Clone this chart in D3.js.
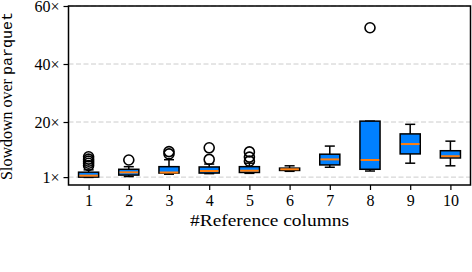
<!DOCTYPE html>
<html>
<head>
<meta charset="utf-8">
<script src="https://cdn.jsdelivr.net/npm/d3@7"></script>
<style>
  body { margin: 0; background: #fff; }
  svg text { font-family: "Liberation Serif", "Times New Roman", "Noto Serif", "DejaVu Serif", serif; }
  svg text .mono { font-family: "Liberation Mono", "DejaVu Sans Mono", monospace; }
</style>
</head>
<body>
<div id="viz"></div>
<script>
// box stats per number of reference columns
const columns   = [1, 2, 3, 4, 5, 6, 7, 8, 9, 10];
const whiskLow  = [0.9, 1.2, 2.0, 2.2, 2.3, 3.0, 4.4, 3.1, 5.8, 4.9];
const q1        = [1.0, 1.7, 2.4, 2.4, 2.6, 3.3, 5.2, 3.7, 9.0, 7.6];
const medians   = [1.5, 2.65, 2.6, 3.1, 3.2, 3.7, 7.1, 6.9, 12.4, 8.2];
const q3        = [2.7, 3.7, 4.6, 4.5, 4.6, 4.1, 8.9, 20.3, 15.9, 10.1];
const whiskHigh = [3.5, 4.6, 7.0, 5.5, 5.8, 4.9, 11.7, 20.3, 19.2, 13.4];
const outliers  = [[5.0, 5.8, 6.5, 7.2, 8.0], [6.9], [9.0, 9.8], [7.1, 11.1], [6.5, 7.9, 9.7], [], [], [52.5], [], []];
const yTicks = [1, 20, 40, 60];

const width = 472, height = 272;
const margin = {left: 68.5, right: 1.5, top: 6, bottom: 87};

const svg = d3.select("#viz").append("svg")
  .attr("width", width)
  .attr("height", height);

const x = d3.scaleLinear()
  .domain([0.5, 10.5])
  .range([margin.left, width - margin.right]);

const y = d3.scaleLinear()
  .domain([-1.72, 60])
  .range([height - margin.bottom, margin.top]);

const boxW = x(0.75) - x(0.5);   // half of box width in px
const capW = boxW / 2;

// grid
svg.append("g")
  .selectAll("line")
  .data(yTicks)
  .join("line")
  .attr("x1", x(0.5)).attr("x2", x(10.5))
  .attr("y1", d => y(d)).attr("y2", d => y(d))
  .attr("stroke", "#cccccc")
  .attr("stroke-width", 1)
  .attr("stroke-dasharray", "5,2.5");

const boxes = columns.map((c, i) => ({
  c, lo: whiskLow[i], q1: q1[i], med: medians[i], q3: q3[i], hi: whiskHigh[i], out: outliers[i]
}));

const g = svg.append("g");

// whiskers
g.selectAll(".wlo")
  .data(boxes)
  .join("line")
  .attr("x1", d => x(d.c)).attr("x2", d => x(d.c))
  .attr("y1", d => y(d.q1)).attr("y2", d => y(d.lo))
  .attr("stroke", "#000").attr("stroke-width", 1.5);

g.selectAll(".whi")
  .data(boxes)
  .join("line")
  .attr("x1", d => x(d.c)).attr("x2", d => x(d.c))
  .attr("y1", d => y(d.q3)).attr("y2", d => y(d.hi))
  .attr("stroke", "#000").attr("stroke-width", 1.5);

// caps
g.append("g").selectAll("line")
  .data(boxes.flatMap(d => [{c: d.c, v: d.lo}, {c: d.c, v: d.hi}]))
  .join("line")
  .attr("x1", d => x(d.c) - capW).attr("x2", d => x(d.c) + capW)
  .attr("y1", d => y(d.v)).attr("y2", d => y(d.v))
  .attr("stroke", "#000").attr("stroke-width", 1.5);

// boxes
g.append("g").selectAll("rect")
  .data(boxes)
  .join("rect")
  .attr("x", d => x(d.c) - boxW)
  .attr("width", boxW * 2)
  .attr("y", d => y(d.q3))
  .attr("height", d => y(d.q1) - y(d.q3))
  .attr("fill", "#0080ff")
  .attr("stroke", "#000")
  .attr("stroke-width", 1.5);

// medians
g.append("g").selectAll("line")
  .data(boxes)
  .join("line")
  .attr("x1", d => x(d.c) - boxW + 0.75).attr("x2", d => x(d.c) + boxW - 0.75)
  .attr("y1", d => y(d.med)).attr("y2", d => y(d.med))
  .attr("stroke", "#ff7f0e").attr("stroke-width", 2);

// fliers
g.append("g").selectAll("circle")
  .data(boxes.flatMap(d => d.out.map(v => ({c: d.c, v}))))
  .join("circle")
  .attr("cx", d => x(d.c))
  .attr("cy", d => y(d.v))
  .attr("r", 5)
  .attr("fill", "none")
  .attr("stroke", "#000")
  .attr("stroke-width", 1.6);

// frame
svg.append("rect")
  .attr("x", x(0.5)).attr("y", y(60))
  .attr("width", x(10.5) - x(0.5))
  .attr("height", y(-1.72) - y(60))
  .attr("fill", "none")
  .attr("stroke", "#000")
  .attr("stroke-width", 1.5);

// axes
const xAxis = svg.append("g")
  .attr("transform", `translate(0, ${y(-1.72)})`)
  .call(d3.axisBottom(x).tickValues(columns).tickSize(5).tickPadding(5).tickFormat(d3.format("d")));

const yAxis = svg.append("g")
  .attr("transform", `translate(${x(0.5)}, 0)`)
  .call(d3.axisLeft(y).tickValues(yTicks).tickSize(5).tickPadding(4).tickFormat(d => d + "×"));

[xAxis, yAxis].forEach(a => {
  a.select(".domain").remove();
  a.attr("font-family", null).attr("font-size", null);
  a.selectAll(".tick line").attr("stroke", "#000").attr("stroke-width", 1.2);
  a.selectAll(".tick text")
    .style("font-size", "16px")
    .attr("fill", "#000");
});

svg.append("text")
  .attr("x", (x(0.5) + x(10.5)) / 2)
  .attr("y", 226)
  .attr("text-anchor", "middle")
  .style("font-size", "16px")
  .attr("textLength", 159)
  .attr("lengthAdjust", "spacingAndGlyphs")
  .text("#Reference columns");

const ylab = svg.append("text")
  .attr("transform", "translate(12, 96) rotate(-90)")
  .attr("text-anchor", "middle")
  .style("font-size", "16px");
ylab.append("tspan").text("Slowdown over ");
ylab.append("tspan").attr("class", "mono").style("font-size", "15px").text("parquet");
</script>
</body>
</html>
